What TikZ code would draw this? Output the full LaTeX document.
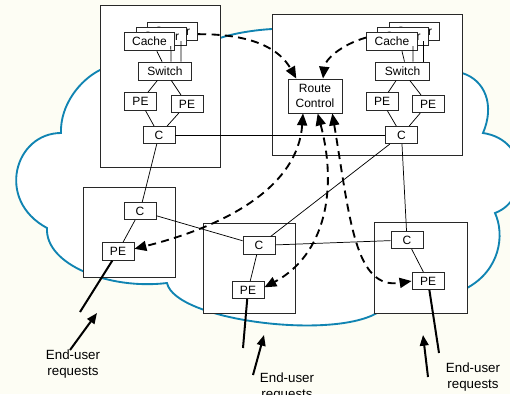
\documentclass[tikz,border=0pt]{standalone}
\usepackage{fontspec}
\setmainfont{Liberation Sans}
\usetikzlibrary{arrows.meta, calc}
\definecolor{cloudblue}{RGB}{16,132,178}
\definecolor{paper}{RGB}{253,253,244}
\definecolor{edge}{RGB}{40,40,40}

\tikzset{
	site/.style={draw=edge, fill=white, line width=0.65pt},
	box/.style={draw=edge, fill=white, line width=0.6pt, inner sep=0pt, font=\fontsize{9}{11}\selectfont},
	srvbox/.style={box, minimum width=38pt, minimum height=14pt},
	swbox/.style={box, minimum width=40pt, minimum height=13.5pt},
	pebox/.style={box, minimum width=24pt, minimum height=13pt},
	rcbox/.style={box, align=center, minimum width=40.5pt, minimum height=25.5pt},
	link/.style={line width=0.55pt},
	access/.style={line width=1.5pt},
	req/.style={line width=1.5pt, -{Triangle[length=8pt,width=6.5pt]}},
	ctrl/.style={dash pattern=on 6pt off 4pt, line width=1.4pt, -{Triangle[length=9pt,width=7.5pt]}},
	ctrlboth/.style={dash pattern=on 6pt off 4pt, line width=1.4pt, {Triangle[length=9pt,width=7.5pt]}-{Triangle[length=9pt,width=7.5pt]}},
	note/.style={align=center, font=\fontsize{10}{12}\selectfont}
}

\begin{document}
\begin{tikzpicture}[x=0.75pt, y=-0.75pt]
	\useasboundingbox[fill=paper] (0,0) rectangle (510,394);

	\draw[draw=cloudblue, fill=white, line width=1.4pt] (100,70) .. controls (80,80) and (60,105) .. (61,133)
		.. controls (15,133) and (-5,200) .. (47,228)
		.. controls (45,265) and (110,290) .. (167,283)
		.. controls (175,320) and (330,340) .. (377,313)
		.. controls (420,305) .. (467,288)
		.. controls (500,270) and (505,235) .. (495,213)
		.. controls (530,200) and (530,140) .. (483,133)
		.. controls (495,105) and (485,80) .. (462,73)
		-- (272,29) .. controls (255,30) and (235,33) .. (220,38) -- cycle;

	\draw[site] (100,5) rectangle (220,167);
	\draw[site] (272,14) rectangle (462,155);
	\draw[site] (83,187) rectangle (175,277);
	\draw[site] (203,223) rectangle (295,313);
	\draw[site] (374,222) rectangle (467,313);

	\coordinate (srvA2) at (172.5,31.5);
	\coordinate (srvA1) at (161.5,36.5);
	\coordinate (cacheA) at (149.5,41.5);
	\coordinate (srvB2) at (414.5,31.5);
	\coordinate (srvB1) at (403,36.5);
	\coordinate (cacheB) at (392,41.5);

	\node[srvbox] (sA2) at (srvA2) {Server};
	\node[srvbox] (sA1) at (srvA1) {Server};
	\node[srvbox] (cA) at (cacheA) {Cache};
	\node[swbox] (swA) at (165,71) {Switch};
	\node[pebox] (peA1) at (140.5,101.5) {PE};
	\node[pebox] (peA2) at (187,104) {PE};
	\node[pebox] (rtA) at (159,135) {C};

	\node[srvbox] (sB2) at (srvB2) {Server};
	\node[srvbox] (sB1) at (srvB1) {Server};
	\node[srvbox] (cB) at (cacheB) {Cache};
	\node[swbox] (swB) at (402.5,71) {Switch};
	\node[pebox] (peB1) at (382,101.5) {PE};
	\node[pebox] (peB2) at (428,104) {PE};
	\node[pebox] (rtB) at (401.5,135) {C};
	\node[rcbox] (rc) at (315,96) {Route\\Control};

	\node[pebox] (rtL) at (140,211) {C};
	\node[pebox] (peL) at (118,251.5) {PE};
	\node[pebox] (rtM) at (259,245.5) {C};
	\node[pebox] (peM) at (248,290) {PE};
	\node[pebox] (rtR) at (407,240) {C};
	\node[pebox] (peR) at (428,281) {PE};

	\draw[link] ([xshift=5.5pt]cA.south) -- ([xshift=-2.2pt]swA.north);
	\draw[link] ([xshift=7pt]sA1.south) -- ([xshift=4.5pt]swA.north);
	\draw[link] ([xshift=6.4pt]sA2.south) -- ([xshift=12pt]swA.north);
	\draw[link] ([xshift=7.5pt]cB.south) -- ([xshift=1.5pt]swB.north);
	\draw[link] ([xshift=7.5pt]sB1.south) -- ([xshift=7.9pt]swB.north);
	\draw[link] ([xshift=6.4pt]sB2.south) -- ([xshift=15.4pt]swB.north);

	\draw[link] (swA) -- (peA1);
	\draw[link] (swA) -- (peA2);
	\draw[link] (peA1) -- (rtA);
	\draw[link] (peA2) -- (rtA);
	\draw[link] (swB) -- (peB1);
	\draw[link] (swB) -- (peB2);
	\draw[link] (peB1) -- (rtB);
	\draw[link] (peB2) -- (rtB);

	\draw[link] (rtA) -- (rtB);
	\draw[link] (rtA) -- (rtL);
	\draw[link] (rtL) -- (rtM);
	\draw[link] (rtM) -- (rtB);
	\draw[link] (rtM) -- (rtR);
	\draw[link] (rtB) -- (rtR);
	\draw[link] (rtL) -- (peL);
	\draw[link] (rtM) -- (peM);
	\draw[link] (rtR) -- (peR);

	\draw[ctrl] ([yshift=-2pt]sA2.east) .. controls (255,34) and (280,50) .. ([xshift=-14pt]rc.north);
	\draw[ctrl] ([yshift=3pt]cB.west) .. controls (340,45) and (325,60) .. ([xshift=6pt]rc.north);
	\draw[ctrlboth] ([xshift=-9pt]rc.south) .. controls (298,185) and (230,225) .. ([yshift=2pt]peL.east);
	\draw[ctrlboth] ([xshift=2pt]rc.south) .. controls (338,190) and (325,255) .. ([yshift=2pt]peM.east);
	\draw[ctrlboth] ([xshift=13pt]rc.south) .. controls (350,220) and (355,290) .. (peR.west);

	\coordinate (inL) at (80,312);
	\coordinate (inM) at (243,348);
	\coordinate (inR) at (439,353);
	\draw[access] (peL) -- (inL);
	\draw[access] (peM) -- (inM);
	\draw[access] (peR) -- (inR);

	\coordinate (qL0) at (70,350);
	\coordinate (qL1) at (97,313);
	\coordinate (qM0) at (253,375);
	\coordinate (qM1) at (264,335);
	\coordinate (qR0) at (428,377);
	\coordinate (qR1) at (423,335);
	\draw[req] (qL0) -- (qL1);
	\draw[req] (qM0) -- (qM1);
	\draw[req] (qR0) -- (qR1);

	\node[note] (reqL) at (73,364) {End-user\\requests};
	\node[note] (reqM) at (287,387) {End-user\\requests};
	\node[note] (reqR) at (473,377) {End-user\\requests};
\end{tikzpicture}
\end{document}
